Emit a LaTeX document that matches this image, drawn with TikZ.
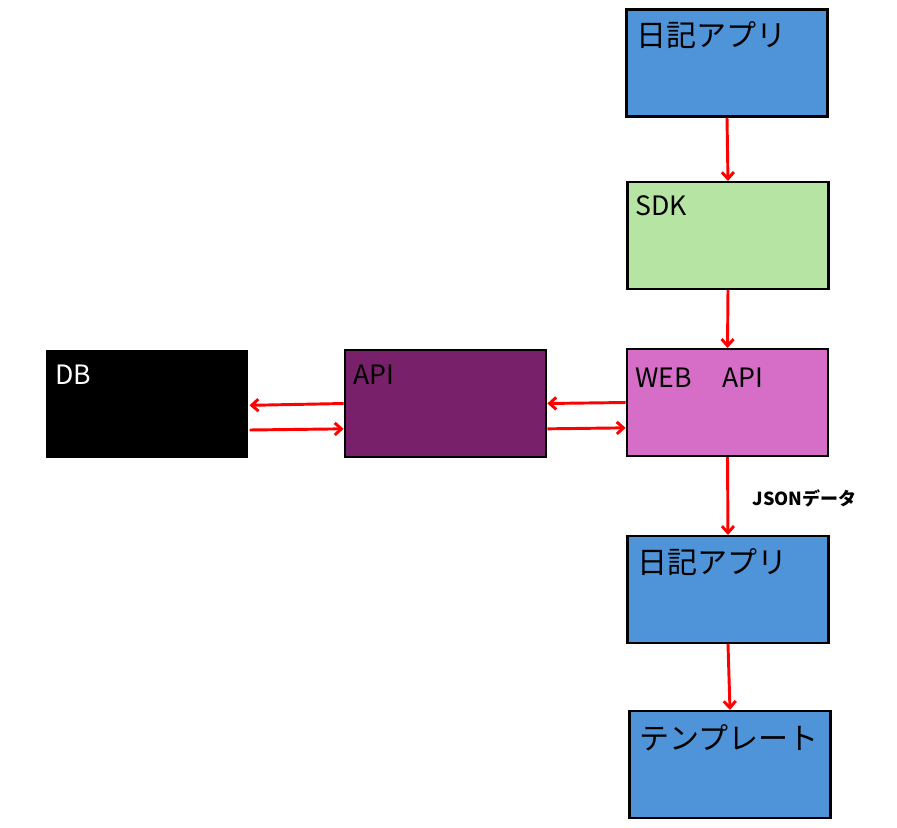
\documentclass[tikz,border=0pt]{standalone}
\usepackage{fontspec}
\setmainfont{Noto Sans CJK JP}
\usetikzlibrary{arrows,arrows.meta,shapes,positioning}

\definecolor{appblue}{RGB}{79,148,217}
\definecolor{sdkgreen}{RGB}{181,228,163}
\definecolor{webpink}{RGB}{214,110,200}
\definecolor{apipurple}{RGB}{120,32,106}

\tikzset{
  box/.style={draw=black, line width=1.8pt, minimum width=151pt, minimum height=80pt, inner sep=0pt},
  boxtext/.style={anchor=north west, inner sep=0pt, font=\fontsize{20}{24}\selectfont},
  jptext/.style={anchor=north west, inner sep=0pt, font=\fontsize{22.5}{26}\selectfont},
  flow/.style={draw=red, line width=2.2pt, -{Straight Barb[length=5pt, width=9pt]}}
}

\begin{document}
\begin{tikzpicture}[x=0.75pt, y=-0.75pt]
\useasboundingbox (0,0) rectangle (897,828);

\node [box, fill=appblue] (app1) at (727,63) {};
\node [box, fill=sdkgreen] (sdk) at (728,235.5) {};
\node [box, fill=webpink] (web) at (727.5,402.5) {};
\node [box, fill=apipurple] (api) at (445.5,403.5) {};
\node [box, draw=none, fill=black, minimum width=152pt, minimum height=81pt] (db) at (147,404) {};
\node [box, fill=appblue] (app2) at (728,589.5) {};
\node [box, fill=appblue] (tmpl) at (730,764.5) {};

\node [jptext] (app1t) at ([shift={(8pt,-10pt)}]app1.north west) {日記アプリ};
\node [boxtext] (sdkt) at ([shift={(7pt,-11pt)}]sdk.north west) {SDK};
\node [boxtext] (webt) at ([shift={(7pt,-15pt)}]web.north west) {WEB　\hspace{3pt}API};
\node [boxtext] (apit) at ([shift={(7pt,-12pt)}]api.north west) {API};
\node [boxtext, text=white] (dbt) at ([shift={(8pt,-12pt)}]db.north west) {DB};
\node [jptext] (app2t) at ([shift={(8pt,-10pt)}]app2.north west) {日記アプリ};
\node [jptext] (tmplt) at ([shift={(8pt,-11pt)}]tmpl.north west) {テンプレート};

\draw [flow] (app1.south) -- (sdk.north);
\draw [flow] (sdk.south) -- (web.north);
\draw [flow] (web.south) -- (app2.north);
\draw [flow] (app2.south) -- (tmpl.north);

\draw [flow] (web.west) -- (api.east);
\draw [flow] ([yshift=-19pt]api.east) -- ([yshift=-19pt]web.west);
\draw [flow] (api.west) -- ([yshift=-1pt]db.east);
\draw [flow] ([yshift=-19.5pt]db.east) -- ([yshift=-19pt]api.west);

\node [font=\bfseries\fontsize{13.5}{16}\selectfont, anchor=west] (json) at (748,498) {JSONデータ};
\end{tikzpicture}
\end{document}
